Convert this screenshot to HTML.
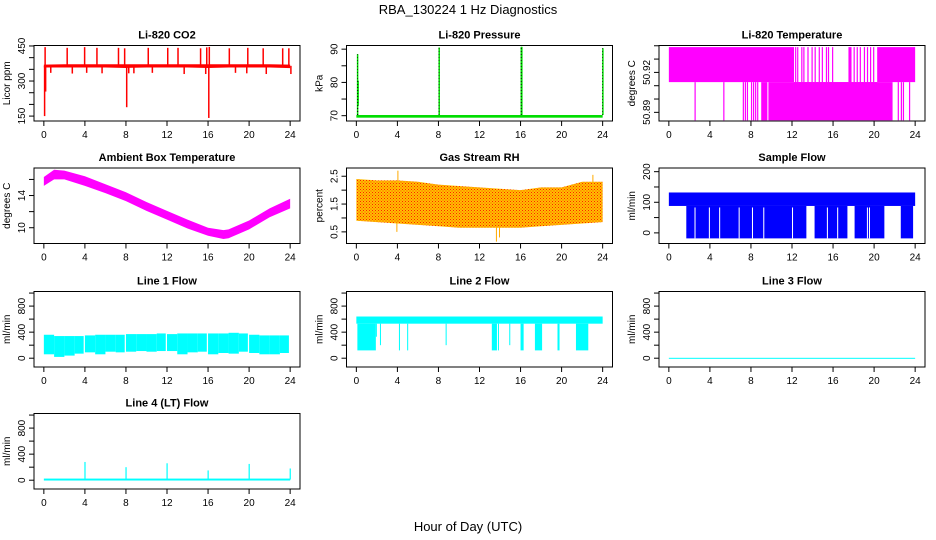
<!DOCTYPE html>
<html><head><meta charset="utf-8"><style>
html,body{margin:0;padding:0;background:#fff;}
svg{display:block;font-family:"Liberation Sans",Arial,sans-serif;}
</style></head><body>
<svg id="chart" width="936" height="540" viewBox="0 0 936 540">
<defs>
<pattern id="rhpat" width="3" height="3" patternUnits="userSpaceOnUse">
<rect width="3" height="3" fill="#ffc000"/><rect width="1" height="1" fill="#ff2000"/><rect x="1.5" y="1.5" width="1" height="1" fill="#ff4000"/>
</pattern>
</defs>
<text x="468" y="14" text-anchor="middle" font-size="13">RBA_130224  1 Hz Diagnostics</text>
<text x="468" y="531" text-anchor="middle" font-size="13">Hour of Day (UTC)</text>
</svg>
<script>
// ---- data ----
const xTicks=[0,4,8,12,16,20,24];
// CO2
const co2Hours=[0,2,4,6,8,10,12,14,16,18,20,22,24];
const co2Lo=[358,358,358,358,356,358,358,358,356,358,358,358,355];
const co2Hi=[370,372,372,372,372,372,372,372,372,372,372,372,370];
const co2SpikeHours=[0.05,2.2,3.9,5.1,7.2,7.8,10.1,12.0,13.0,15.2,15.8,16.05,18.0,19.8,21.3,23.2,23.8,0.0,0.1,8.0,16.0,0.6,2.7,4.1,5.6,8.2,8.7,10.5,13.6,15.7,18.6,19.7,21.6,24.0];
const co2SpikeVals=[445,442,445,442,442,440,442,442,442,440,444,446,440,442,440,440,440,150,255,188,142,335,332,335,333,333,333,335,330,330,335,333,330,330];
// Pressure
const presSpikeHours=[0.05,0.1,8.0,16.0,16.05,23.95];
const presSpikeVals=[88.5,80.5,90.5,90.7,90.7,90.3];
const presLo=69.4, presHi=70.2;
// Li-820 Temperature bands
const tStart=[0,12.2,17.4,20.3,9.7,9.0,12.3,12.5,12.9,13.1,13.5,13.9,14.2,14.6,14.9,15.3,15.5,15.9,17.5,18.0,18.3,18.6,19.0,19.3,19.6,19.9,2.5,5.3,7.2,7.4,7.6,8.0,8.2,8.4,8.6,22.3,22.6,22.8,23.4];
const tEnd=[12.2,17.4,20.3,24,21.8,9.6,12.35,12.55,12.95,13.15,13.55,13.95,14.25,14.65,14.95,15.35,15.55,15.95,17.8,18.05,18.35,18.65,19.05,19.35,19.65,19.95,2.55,5.35,7.25,7.45,7.65,8.05,8.25,8.45,8.65,22.35,22.65,22.85,23.45];
const tLo=[50.9127,50.9127,50.9127,50.9127,50.884,50.884,50.9127,50.9127,50.9127,50.9127,50.9127,50.9127,50.9127,50.9127,50.9127,50.9127,50.9127,50.9127,50.9127,50.9127,50.9127,50.9127,50.9127,50.9127,50.9127,50.9127,50.884,50.884,50.884,50.884,50.884,50.884,50.884,50.884,50.884,50.884,50.884,50.884,50.884];
const tHi=[50.939,50.9127,50.9127,50.939,50.9127,50.9127,50.939,50.939,50.939,50.939,50.939,50.939,50.939,50.939,50.939,50.939,50.939,50.939,50.939,50.939,50.939,50.939,50.939,50.939,50.939,50.939,50.9127,50.9127,50.9127,50.9127,50.9127,50.9127,50.9127,50.9127,50.9127,50.9127,50.9127,50.9127,50.9127];
// Ambient box temperature
const ambHours=[0,1,2,4,6,8,10,12,14,16,17.5,18,20,22,24];
const ambLo=[15.2,16.0,16.0,15.2,14.3,13.3,12.1,11.0,9.9,9.0,8.6,8.7,9.8,11.3,12.4];
const ambHi=[16.3,17.2,17.1,16.4,15.4,14.4,13.2,12.1,11.0,10.0,9.7,9.8,10.9,12.4,13.6];
// Gas stream RH
const rhHours=[0,2,4,6,8,10,12,14,16,18,20,22,24];
const rhLo=[0.9,0.85,0.8,0.75,0.7,0.65,0.65,0.65,0.65,0.7,0.75,0.8,0.85];
const rhHi=[2.4,2.35,2.35,2.3,2.2,2.15,2.1,2.05,2.0,2.1,2.1,2.3,2.3];
const rhSpikeHours=[4.0,13.6,3.9,13.9,23.0];
const rhSpikeVals=[2.7,0.15,0.5,0.3,2.55];
// Sample flow
const sfLo=88, sfHi=132;
const sfStart=[1.7,14.2,18.1,22.6];
const sfEnd=[13.4,17.4,21.0,23.8];
const sfBottom=-18;
const sfGapHours=[2.5,3.9,4.9,6.8,8.1,9.2,12.0,15.4,16.4,19.3,19.5];
// Line 1 flow (hourly envelope)
const l1Lo=[60,20,40,70,90,60,100,90,100,110,100,110,110,60,90,100,60,80,70,100,80,60,60,80];
const l1Hi=[360,340,340,340,350,360,360,360,370,370,370,380,370,380,380,380,380,380,390,380,360,350,350,350];
// Line 2 flow
const l2Lo=530, l2Hi=640;
const l2Start=[0.1,4.15,4.95,13.2,13.8,16.0,17.4,19.6,21.4,1.9,2.3,8.7,14.9];
const l2End=[1.9,4.25,5.05,13.7,13.85,16.3,18.1,19.8,22.6,2.0,2.35,8.75,14.95];
const l2Min=[120,120,120,120,120,120,120,120,120,330,200,200,200];
// Line 3 flow
const l3Val=0;
// Line 4 flow
const l4Base=10;
const l4SpikeHours=[4.0,8.0,12.0,16.0,20.0,24.0];
const l4SpikeVals=[280,200,260,150,250,180];

// ---- layout ----
const svg=document.getElementById('chart');
const NS='http://www.w3.org/2000/svg';
const colL=[34,346.5,659], boxW=266, rowT=[45.5,168,291.5,413.5], boxH=75.5;
function mk(tag,attrs,parent){const e=document.createElementNS(NS,tag);for(const k in attrs)e.setAttribute(k,attrs[k]);(parent||svg).appendChild(e);return e;}

function panel(col,row,name,title,ylab,ylim,ticks,labels){
  const g=mk('g',{});
  
  
  const L=colL[col],T=rowT[row];
  const xs=h=>L+(h+0.96)/25.92*boxW;
  const ys=v=>T+boxH-(v-ylim[0])/(ylim[1]-ylim[0])*boxH;
  const plot=mk('g',{},g);
  
  
  const box=mk('rect',{x:L,y:T,width:boxW,height:boxH,fill:'none',stroke:'#000','stroke-width':1},g);
  
  
  const t=mk('text',{x:L+boxW/2,y:T-7,'text-anchor':'middle','font-size':11,'font-weight':'bold'},g);
  t.textContent=title;
  
  
  const yl=mk('text',{x:0,y:0,'text-anchor':'middle','font-size':10,transform:`translate(${L-24},${T+boxH/2}) rotate(-90)`},g);
  yl.textContent=ylab;
  
  
  const B=T+boxH;
  xTicks.forEach(h=>{
    mk('line',{x1:xs(h),x2:xs(h),y1:B,y2:B+5,stroke:'#000'},g);
    const tx=mk('text',{x:xs(h),y:B+17,'text-anchor':'middle','font-size':10},g);
    tx.textContent=h;
    
    
  });
  ticks.forEach((v,i)=>{
    mk('line',{x1:L,x2:L-5,y1:ys(v),y2:ys(v),stroke:'#000'},g);
    if(labels[i]){
      const ty=mk('text',{x:0,y:0,'text-anchor':'middle','font-size':10,transform:`translate(${L-9},${ys(v)}) rotate(-90)`},g);
      ty.textContent=labels[i];
      
      
    }
  });
  return {xs,ys,g:plot};
}
function vrect(p,h0,h1,v0,v1,fill,minW){
  let x0=p.xs(h0),x1=p.xs(h1);if(x1-x0<(minW||1)){x1=x0+(minW||1);}
  const ya=p.ys(v1),yb=p.ys(v0);
  return mk('rect',{x:x0,y:ya,width:x1-x0,height:Math.max(yb-ya,1),fill:fill},p.g);
}
function band(p,hours,lo,hi,fill){
  let d='M'+hours.map((h,i)=>p.xs(h)+','+p.ys(hi[i])).join('L');
  for(let i=hours.length-1;i>=0;i--)d+='L'+p.xs(hours[i])+','+p.ys(lo[i]);
  return mk('path',{d:d+'Z',fill:fill},p.g);
}
const flowTicks=[0,200,400,600,800,1000], flowLabels=['0','','400','','800',''];

// CO2
let p=panel(0,0,'co2','Li-820 CO2','Licor ppm',[129,452],[150,200,250,300,350,400,450],['150','','','300','','','450']);
band(p,co2Hours,co2Lo,co2Hi,'#ff0000');
co2SpikeHours.forEach((h,i)=>{const b=co2SpikeVals[i]>365;vrect(p,h,h+0.08,b?365:co2SpikeVals[i],b?co2SpikeVals[i]:365,'#ff0000',1.5);});
// Pressure
p=panel(1,0,'pressure','Li-820 Pressure','kPa',[68.4,91.1],[70,75,80,85,90],['70','','80','','90']);
vrect(p,0,24,presLo,presHi,'#00dd00');
presSpikeHours.forEach((h,i)=>{vrect(p,h,h+0.05,h===0.1?73:presHi,presSpikeVals[i],'#00dd00',1.5);
  mk('line',{x1:p.xs(h)+0.5,x2:p.xs(h)+0.5,y1:p.ys(presHi),y2:p.ys(presSpikeVals[i]),stroke:'#000','stroke-width':0.6,'stroke-dasharray':'1,2'},p.g);});
// Li temp
p=panel(2,0,'li820-temp','Li-820 Temperature','degrees C',[50.8835,50.9402],[50.89,50.90,50.91,50.92,50.93,50.94],['50.89','','','50.92','','']);
tStart.forEach((s,i)=>vrect(p,s,tEnd[i],tLo[i],tHi[i],'#ff00ff',1.2));
// Ambient
p=panel(0,1,'ambient-temp','Ambient Box Temperature','degrees C',[8.04,17.42],[10,12,14,16],['10','','14','']);
band(p,ambHours,ambLo,ambHi,'#ff00ff');
// RH
p=panel(1,1,'gas-rh','Gas Stream RH','percent',[0.082,2.796],[0.5,1.0,1.5,2.0,2.5],['0.5','','1.5','','2.5']);
band(p,rhHours,rhLo,rhHi,'url(#rhpat)');
rhSpikeHours.forEach((h,i)=>{const v=rhSpikeVals[i];vrect(p,h,h+0.05,v<1?v:2,v<1?1:v,'#ffaa00',1);});
// Sample flow
p=panel(2,1,'sample-flow','Sample Flow','ml/min',[-34.7,212],[0,50,100,150,200],['0','','100','','200']);
vrect(p,0,24,sfLo,sfHi,'#0000ff');
sfStart.forEach((s,i)=>vrect(p,s,sfEnd[i],sfBottom,sfLo,'#0000ff'));
sfGapHours.forEach(h=>vrect(p,h,h+0.1,sfBottom,sfLo-5,'#ffffff',1));
// Line 1
p=panel(0,2,'line1-flow','Line 1 Flow','ml/min',[-135,1024],flowTicks,flowLabels);
l1Lo.forEach((v,i)=>vrect(p,i,i+1-((i+1)%4===0?0.12:0),v,l1Hi[i],'#00ffff'));
// Line 2
p=panel(1,2,'line2-flow','Line 2 Flow','ml/min',[-135,1024],flowTicks,flowLabels);
vrect(p,0,24,l2Lo,l2Hi,'#00ffff');
l2Start.forEach((s,i)=>vrect(p,s,l2End[i],l2Min[i],l2Lo,'#00ffff',1));
// Line 3
p=panel(2,2,'line3-flow','Line 3 Flow','ml/min',[-135,1024],flowTicks,flowLabels);
vrect(p,0,24,l3Val-6,l3Val+6,'#00ffff');
// Line 4
p=panel(0,3,'line4-flow','Line 4 (LT) Flow','ml/min',[-135,1024],flowTicks,flowLabels);
vrect(p,0,24,l4Base-15,l4Base+15,'#00ffff');
l4SpikeHours.forEach((h,i)=>vrect(p,h-0.05,h+0.03,l4Base,l4SpikeVals[i],'#00ffff',1.2));
</script>
</body></html>
